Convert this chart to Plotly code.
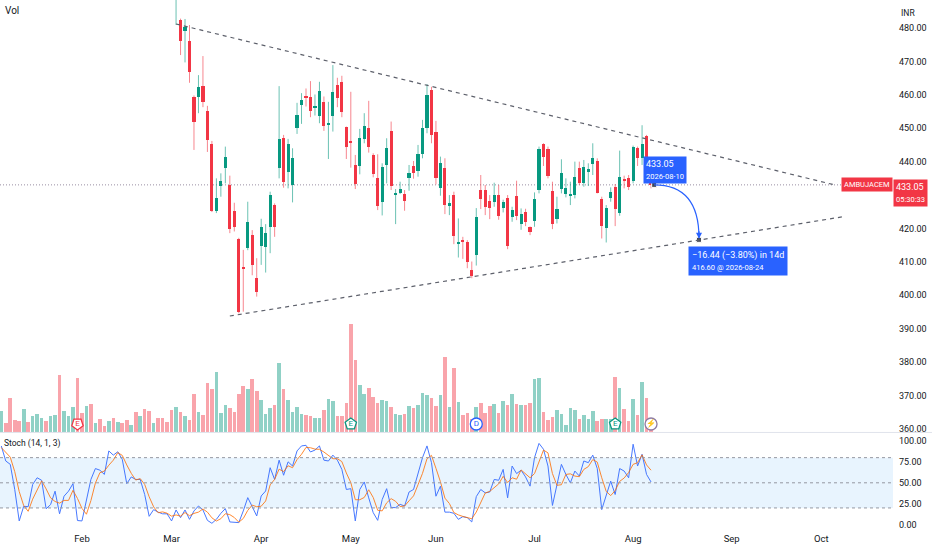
import plotly.graph_objects as go

# daily bars, index 0 = early Jan 2026, last bar = 2026-08-10
opens = [556, 560, 556, 549, 541, 534, 539, 537, 544, 545, 546, 535, 538, 541, 533, 539, 541, 543, 531, 529,
         541, 539, 547, 546, 543, 553, 551, 554, 550, 541, 545, 543, 544, 535, 522, 524, 520, 518, 514, 490.5,
         482.4, 479.2, 476.1, 459.3, 459.2, 462.6, 455.3, 445.2, 425.3, 432.8, 438.0, 433.0, 425.2, 416.8, 408.2, 414.1,
         418.0, 405.1, 414.9, 414.4, 420.5, 427.0, 438.0, 447.2, 437.0, 433.0, 450.0, 456.9, 459.5, 459.3, 456.2, 453.7,
         457.9, 451.2, 453.7, 462.9, 463.9, 450.3, 445.9, 439.0, 438.7, 446.7, 450.2, 442.0, 435.0, 428.0, 439.0, 449.2,
         430.1, 430.7, 430.2, 435.0, 438.7, 437.2, 442.2, 450.0, 461.3, 448.8, 432.2, 438.2, 426.8, 430.0, 415.4, 416.5,
         415.9, 407.6, 412.1, 431.5, 431.5, 428.2, 427.8, 430.0, 426.2, 429.0, 423.5, 429.8, 421.3, 425.0, 420.4, 422.2,
         431.5, 445.2, 443.7, 431.2, 422.8, 431.8, 430.2, 429.9, 430.0, 438.2, 433.7, 436.8, 439.3, 440.2, 428.7, 420.1,
         429.0, 432.3, 424.6, 434.8, 435.2, 434.2, 444.2, 441.2, 447.7, 438.0]
highs = [563, 562, 558, 551, 543, 540, 541, 546, 549, 549, 548, 540, 543, 542, 541, 543, 546, 545, 533, 539,
         543, 548, 549, 548, 555, 556, 557, 556, 551, 547, 547, 546, 545, 536, 527, 526, 522, 520, 516, 497.0,
         482.8, 482.7, 480.9, 459.8, 465.9, 471.6, 456.7, 446.2, 435.0, 436.5, 444.5, 435.8, 427.7, 417.2, 413.6, 428.0,
         419.5, 411.1, 422.9, 421.3, 431.0, 427.5, 462.6, 448.0, 446.8, 444.0, 457.6, 460.5, 461.9, 464.1, 460.1, 463.9,
         459.5, 457.9, 468.9, 465.1, 465.7, 450.5, 460.9, 442.0, 449.8, 454.5, 458.2, 442.5, 442.2, 439.5, 447.0, 452.0,
         431.8, 434.0, 431.5, 439.0, 440.2, 445.0, 452.5, 463.2, 462.4, 452.2, 441.5, 441.0, 430.0, 431.0, 423.0, 417.5,
         416.5, 410.1, 426.1, 436.0, 433.0, 430.0, 433.7, 433.0, 428.6, 430.0, 426.5, 434.3, 426.0, 425.9, 420.6, 430.8,
         444.5, 445.5, 444.5, 434.0, 429.5, 440.7, 435.0, 434.0, 440.0, 440.0, 440.5, 439.5, 445.5, 441.0, 429.5, 427.0,
         432.3, 433.3, 443.3, 435.8, 436.0, 444.8, 444.5, 450.9, 448.0, 438.0]
lows = [553, 554, 547, 539, 531, 531, 535, 535, 542, 543, 534, 533, 536, 531, 531, 537, 539, 529, 527, 527,
        536, 537, 543, 541, 541, 549, 549, 548, 539, 539, 541, 540, 533, 520, 519, 518, 516, 512, 503, 480.9,
        471.9, 469.7, 463.6, 443.5, 454.5, 456.3, 442.9, 424.9, 424.6, 429.5, 433.5, 418.6, 419.1, 394.6, 395.1, 413.5,
        406.0, 399.6, 409.1, 406.8, 412.6, 417.5, 435.0, 432.2, 432.0, 427.8, 448.3, 451.3, 456.5, 453.3, 453.8, 451.5,
        449.2, 440.8, 449.0, 456.3, 453.3, 440.8, 438.2, 431.8, 436.2, 445.5, 442.7, 435.3, 425.5, 423.9, 433.5, 431.5,
        421.3, 430.3, 425.3, 431.3, 434.9, 435.5, 441.0, 448.5, 445.5, 433.2, 429.8, 424.3, 424.0, 415.3, 411.3, 410.9,
        408.1, 405.1, 408.9, 425.8, 424.0, 422.8, 426.5, 422.6, 424.8, 413.8, 422.0, 422.5, 419.6, 420.7, 418.0, 420.5,
        430.5, 438.7, 435.0, 419.8, 421.5, 430.5, 429.3, 427.0, 429.0, 433.0, 432.5, 432.7, 436.0, 430.5, 417.0, 415.8,
        428.0, 420.7, 423.8, 432.0, 431.5, 433.5, 438.7, 439.0, 436.0, 432.0]
closes = [560, 556, 549, 541, 534, 538, 537, 544, 546, 547, 536, 538, 541, 533, 539, 541, 544, 531, 529, 537,
          539, 546, 545, 543, 553, 551, 554, 550, 541, 545, 543, 544, 535, 522, 524, 520, 518, 514, 505, 494.0,
          476.2, 480.4, 466.9, 451.9, 462.3, 458.0, 446.5, 425.3, 429.0, 434.2, 441.3, 419.9, 420.5, 395.1, 408.0, 422.0,
          409.1, 400.9, 420.3, 418.6, 430.0, 420.5, 446.9, 434.0, 445.3, 441.1, 454.1, 458.5, 459.3, 455.2, 456.4, 461.2,
          450.7, 451.4, 460.8, 459.0, 454.8, 444.3, 445.7, 433.2, 447.0, 450.8, 444.3, 436.3, 426.8, 438.3, 444.0, 432.7,
          430.3, 431.7, 428.3, 436.5, 436.5, 442.2, 450.0, 459.9, 448.0, 435.0, 439.5, 427.0, 427.5, 417.6, 415.6, 415.9,
          410.1, 405.9, 423.3, 428.8, 426.5, 426.0, 430.0, 423.7, 427.8, 414.8, 425.5, 423.7, 424.2, 421.8, 418.8, 428.8,
          443.7, 441.5, 435.7, 421.3, 425.8, 436.5, 432.0, 430.1, 435.3, 433.5, 438.5, 437.7, 441.0, 430.7, 420.7, 426.1,
          431.0, 425.9, 435.5, 434.3, 432.3, 444.3, 441.0, 445.3, 436.5, 433.05]
# volume, millions of shares
volume = [3.15, 1.4, 5.15, 1.8, 1.65, 3.4, 1.5, 2.4, 2.75, 2.1, 1.6, 2.35, 2.55, 8.5, 3.15, 2.4, 3.8, 8.15, 2.8, 3.9,
          4.15, 1.3, 1.9, 0.9, 1.65, 2.1, 1.5, 1.3, 1.8, 1.0, 3.05, 2.35, 3.4, 3.1, 1.3, 2.15, 2.05, 1.5, 3.25, 3.7,
          3.05, 2.35, 1.75, 5.65, 3.05, 2.55, 7.3, 6.4, 9.0, 2.85, 4.1, 3.6, 3.05, 5.7, 6.85, 6.4, 8.0, 6.1, 4.8, 2.65,
          3.55, 4.1, 10.3, 6.5, 4.8, 3.05, 3.7, 2.75, 2.6, 2.35, 2.05, 2.05, 3.25, 4.95, 4.6, 2.35, 2.35, 4.4, 16.2, 10.75,
          7.0, 5.7, 6.65, 5.3, 4.35, 4.75, 4.65, 3.7, 2.65, 2.5, 2.65, 3.9, 3.6, 4.0, 5.9, 5.6, 5.05, 3.9, 5.6, 11.25,
          3.7, 9.65, 4.45, 2.5, 2.9, 2.0, 3.8, 4.4, 2.8, 3.85, 4.25, 2.8, 4.65, 4.0, 5.7, 4.15, 4.0, 4.0, 4.35, 8.0,
          8.05, 3.05, 1.8, 2.25, 3.25, 2.75, 1.0, 3.55, 3.25, 2.0, 2.55, 1.95, 3.1, 1.7, 2.0, 1.9, 1.9, 8.2, 6.65, 3.45,
          1.6, 4.9, 2.5, 7.45, 5.15, 0.75]
# Stoch (14, 1, 3)
stoch_k = [93.9, 76, 72, 42, 4.5, 22, 21.5, 48, 56, 53, 19, 24, 40, 13, 34, 40, 49, 5, 4.5, 28,
           54, 67, 65, 60, 88, 83, 87, 78, 49, 57, 54, 54, 36, 10, 18, 15, 13, 13, 4.5, 17.6,
           8.4, 17.6, 6.4, 16.4, 22.3, 17.6, 5.2, 1.7, 6.4, 13.6, 19.2, 3.3, 3.3, 2.5, 16.4, 32.3, 21.6, 10.4, 34.3, 40.2,
           68, 54, 77, 59, 75, 70, 88, 94, 94.7, 86.8, 89, 94, 77, 76, 83, 77, 66, 42, 43, 4.5,
           42, 51, 32, 14.4, 5.2, 30, 43, 20.4, 20.4, 24.3, 22.3, 39, 42, 62, 80, 94, 74, 34, 46, 15,
           15, 13.6, 6.4, 9.6, 8.4, 3.3, 33.5, 42, 38, 39, 54, 53, 66, 32, 70, 61, 65, 57, 46, 80,
           97, 90, 70, 23, 48, 72, 60, 50, 64, 58, 76, 74, 83, 67, 18, 34, 52, 36, 67, 64,
           56, 96, 70, 84, 60, 51]
stoch_d = [92, 86, 80.6, 63.3, 39.5, 22.8, 16.0, 30.5, 41.8, 52.3, 42.7, 32.0, 27.7, 25.7, 29.0, 29.0, 41.0, 31.3, 19.5, 12.5,
           28.8, 49.7, 62.0, 64.0, 71.0, 77.0, 86.0, 82.7, 71.3, 61.3, 53.3, 55.0, 48.0, 33.3, 21.3, 14.3, 15.3, 13.7, 10.2, 11.7,
           10.2, 14.5, 10.8, 13.5, 15.0, 18.8, 15.0, 8.2, 4.4, 7.2, 13.1, 12.0, 8.6, 3.0, 7.4, 17.1, 23.4, 21.4, 22.1, 28.3,
           47.5, 54.1, 66.3, 63.3, 70.3, 68.0, 77.7, 84.0, 92.2, 91.8, 90.2, 89.9, 86.7, 82.3, 78.7, 78.7, 75.3, 61.7, 50.3, 29.8,
           29.8, 32.5, 41.7, 32.5, 17.2, 16.5, 26.1, 31.1, 27.9, 21.7, 22.3, 28.5, 34.4, 47.7, 61.3, 78.7, 82.7, 67.3, 51.3, 31.7,
           25.3, 14.5, 11.7, 9.9, 8.1, 7.1, 15.1, 26.3, 37.8, 39.7, 43.7, 48.7, 57.7, 50.3, 56.0, 54.3, 65.3, 61.0, 56.0, 61.0,
           74.3, 89.0, 85.7, 61.0, 47.0, 47.7, 60.0, 60.7, 58.0, 57.3, 66.0, 69.3, 77.7, 74.7, 56.0, 39.7, 34.7, 40.7, 51.7, 55.7,
           62.3, 72.0, 74.0, 83.3, 71.3, 65.0]

month_ticks = [18, 38, 58, 78, 97, 119, 141, 163, 183]
month_labels = ["Feb", "Mar", "Apr", "May", "Jun", "Jul", "Aug", "Sep", "Oct"]

# drawings: (bar index, price)
upper_trend = [(39, 481.2), (186.1, 433.0)]
lower_trend = [(51, 393.8), (187.8, 423.5)]
forecast_start = (145.7, 433.05)
forecast_end = (155.7, 416.6)

# chart events in the volume area
event_x = [17, 78, 106, 137, 145]
event_text = ["E", "E", "D", "E", "⚡"]
event_color = ["#F23645", "#089981", "#2962FF", "#089981", "#8E7CA3"]
event_symbol = ["pentagon", "pentagon", "circle", "pentagon", "circle"]
event_angle = [180, 0, 0, 0, 0]

UP, DOWN = "#089981", "#F23645"
FONT = "Roboto"
x = list(range(len(closes)))
up = [c >= o for o, c in zip(opens, closes)]

fig = go.Figure()

# volume overlay
fig.add_trace(go.Bar(
    x=x, y=volume, yaxis="y3", width=0.8,
    marker_color=["rgba(8,153,129,0.45)" if u else "rgba(242,54,69,0.45)" for u in up],
    marker_line_width=0, hoverinfo="skip"))

# wicks
for flag, col in [(True, "rgba(8,153,129,0.6)"), (False, "rgba(242,54,69,0.6)")]:
    wx, wy = [], []
    for i in x:
        if up[i] == flag:
            wx += [i, i, None]
            wy += [lows[i], highs[i], None]
    fig.add_trace(go.Scatter(x=wx, y=wy, mode="lines", line=dict(color=col, width=1),
                             hoverinfo="skip"))

# bodies
fig.add_trace(go.Bar(
    x=x, y=[max(abs(c - o), 0.3) for o, c in zip(opens, closes)],
    base=[min(o, c) for o, c in zip(opens, closes)], width=0.7,
    marker_color=[UP if u else DOWN for u in up], marker_line_width=0))

# stochastic
fig.add_trace(go.Scatter(x=x, y=stoch_k, yaxis="y2", mode="lines",
                         line=dict(color="#2962FF", width=1), opacity=0.85))
fig.add_trace(go.Scatter(x=x, y=stoch_d, yaxis="y2", mode="lines",
                         line=dict(color="#FF6D00", width=1), opacity=0.8))

# forecast anchors
fig.add_trace(go.Scatter(
    x=[forecast_start[0], forecast_end[0]], y=[forecast_start[1], forecast_end[1]],
    mode="markers", marker=dict(symbol="square", size=5, color="#434651",
                                line=dict(color="white", width=1))))

# events
fig.add_trace(go.Scatter(
    x=event_x, y=[1.2] * len(event_x), yaxis="y3", mode="markers+text",
    text=event_text, textposition="middle center",
    textfont=dict(family=FONT, size=8, color=event_color),
    marker=dict(symbol=event_symbol, angle=event_angle, size=12, color="white",
                line=dict(color=event_color, width=1.3))))

shapes = [
    dict(type="line", xref="x", yref="y", x0=upper_trend[0][0], y0=upper_trend[0][1],
         x1=upper_trend[1][0], y1=upper_trend[1][1], line=dict(color="#5d606b", width=1.2, dash="4px,4px")),
    dict(type="line", xref="x", yref="y", x0=lower_trend[0][0], y0=lower_trend[0][1],
         x1=lower_trend[1][0], y1=lower_trend[1][1], line=dict(color="#5d606b", width=1.2, dash="4px,4px")),
    # last price line
    dict(type="line", xref="paper", yref="y", x0=0, x1=1, y0=closes[-1], y1=closes[-1],
         line=dict(color="#9a8fa3", width=1, dash="1px,2px"), layer="below"),
    # stoch band
    dict(type="rect", xref="paper", yref="y2", x0=0, x1=1, y0=20, y1=80,
         fillcolor="rgba(33,150,243,0.1)", line_width=0, layer="below"),
    # pane separator
    dict(type="line", xref="paper", yref="paper", x0=0, x1=1.05, y0=0.1856, y1=0.1856,
         line=dict(color="#e0e3eb", width=1)),
    # forecast curve
    dict(type="path", xref="x", yref="y",
         path=f"M {forecast_start[0]},{forecast_start[1]} Q {forecast_end[0]},{forecast_start[1]} "
              f"{forecast_end[0]},{forecast_end[1] + 0.6}",
         line=dict(color="#2962FF", width=1.2)),
]
for lvl in [80, 50, 20]:
    shapes.append(dict(type="line", xref="paper", yref="y2", x0=0, x1=1, y0=lvl, y1=lvl,
                       line=dict(color="#9598a1", width=1, dash="3px,3px")))

small = "font-size:7.5px"
annotations = [
    dict(text="Vol", xref="paper", yref="paper", x=0, y=1, xanchor="left", yanchor="top",
         xshift=3, yshift=-3, showarrow=False, font=dict(size=10, color="#131722")),
    dict(text="Stoch (14, 1, 3)", xref="paper", yref="y2 domain", x=0, y=1, xanchor="left",
         yanchor="top", xshift=2, yshift=-3, showarrow=False, font=dict(size=8.5, color="#131722")),
    dict(text="INR", xref="paper", yref="paper", x=1, y=1, xanchor="left", yanchor="top",
         xshift=6, yshift=-6, showarrow=False, font=dict(size=8.5, color="#131722")),
    dict(text="AMBUJACEM", xref="paper", yref="y", x=1, y=closes[-1], xanchor="right",
         yanchor="middle", showarrow=False, bgcolor=DOWN, borderpad=2,
         font=dict(size=7.5, color="white")),
    dict(text=f"{closes[-1]:.2f}<br><span style='{small}'>05:30:33</span>", xref="paper", yref="y",
         x=1, y=closes[-1] + 1.8, xanchor="left", yanchor="top", align="left", showarrow=False,
         bgcolor=DOWN, borderpad=2, font=dict(size=9, color="white")),
    dict(text=f"{closes[-1]:.2f}<br><span style='{small}'>2026-08-10</span>", xref="x", yref="y",
         x=143.2, y=441.6, xanchor="left", yanchor="top", align="left", showarrow=False,
         bgcolor="#2962FF", borderpad=2, font=dict(size=9, color="white")),
    dict(text=f"−16.44 (−3.80%) in 14d<br><span style='{small}'>416.60 @ 2026-08-24</span>",
         xref="x", yref="y", x=153.3, y=414.8, xanchor="left", yanchor="top", align="left",
         showarrow=False, bgcolor="#2962FF", borderpad=3, font=dict(size=9, color="white")),
    dict(x=forecast_end[0], y=forecast_end[1] + 0.3, xref="x", yref="y", ax=0, ay=-9,
         showarrow=True, arrowhead=2, arrowsize=1, arrowwidth=1.2, arrowcolor="#2962FF", text=""),
]

price_ticks = [v for v in range(360, 490, 10) if v != 430]

fig.update_layout(
    width=932, height=550, autosize=False,
    margin=dict(l=0, r=39, t=0, b=19),
    paper_bgcolor="white", plot_bgcolor="white",
    font=dict(family=FONT, size=9, color="#131722"),
    showlegend=False, barmode="overlay", bargap=0,
    xaxis=dict(range=[-0.29, 199.0], anchor="y2", showgrid=False, zeroline=False,
               tickvals=month_ticks, ticktext=month_labels, ticks="", showline=False,
               tickfont=dict(size=9.5)),
    yaxis=dict(domain=[0.18644, 1], range=[359.08, 488.38], side="right", anchor="x",
               showgrid=False, zeroline=False, tickvals=price_ticks,
               ticktext=[f"{v:.2f}" for v in price_ticks], ticks="", ticklabelstandoff=5),
    yaxis2=dict(domain=[0, 0.18456], range=[-7.5, 109.4], side="right", anchor="x",
                showgrid=False, zeroline=False, tickvals=[0, 25, 50, 75, 100],
                ticktext=["0.00", "25.00", "50.00", "75.00", "100.00"], ticks="",
                ticklabelstandoff=5),
    yaxis3=dict(overlaying="y", range=[0, 64.8], visible=False),
    shapes=shapes, annotations=annotations,
)

fig.write_html("out.html", config={"displayModeBar": False},
               post_script="document.body.style.margin='0';document.body.style.overflow='hidden';")
